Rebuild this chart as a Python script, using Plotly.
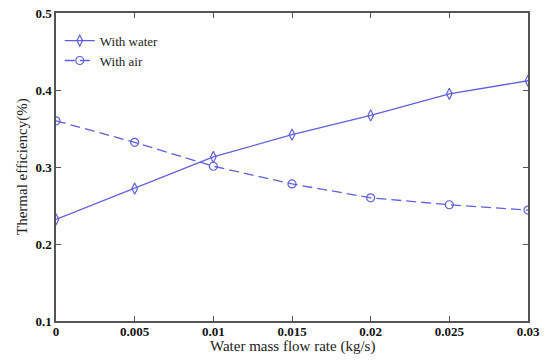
import plotly.graph_objects as go

x_vals = [0, 0.005, 0.01, 0.015, 0.02, 0.025, 0.03]
water = [0.232, 0.272, 0.313, 0.342, 0.367, 0.395, 0.412]
air = [0.360, 0.332, 0.301, 0.278, 0.260, 0.251, 0.244]
x_ticks = [0, 0.005, 0.01, 0.015, 0.02, 0.025, 0.03]
x_tick_text = ["0", "0.005", "0.01", "0.015", "0.02", "0.025", "0.03"]
y_ticks = [0.1, 0.2, 0.3, 0.4, 0.5]
y_tick_text = ["0.1", "0.2", "0.3", "0.4", "0.5"]
x_title = "Water mass flow rate (kg/s)"
y_title = "Thermal efficiency(%)"

color = "rgb(95,95,225)"
font = "Liberation Serif, Times New Roman, serif"

fig = go.Figure()
fig.add_trace(go.Scatter(x=x_vals, y=water, mode="lines+markers", name="With water",
                         line=dict(color=color, width=1.3),
                         marker=dict(symbol="diamond-tall-open", size=8, color=color, line=dict(width=1.2))))
fig.add_trace(go.Scatter(x=x_vals, y=air, mode="lines+markers", name="With air",
                         line=dict(color=color, width=1.3, dash="10px,5px"),
                         marker=dict(symbol="circle-open", size=8, color=color, line=dict(width=1.2))))

axis_common = dict(showgrid=False, zeroline=False, showline=True, linecolor="#555", linewidth=1.5,
                   mirror="ticks", ticks="inside", ticklen=5, tickcolor="#555", automargin=False,
                   ticklabeloverflow="allow",
                   tickfont=dict(family=font, size=13, color="#111", weight="bold"))

fig.update_layout(
    width=550, height=364,
    margin=dict(l=56, r=22, t=13, b=43, autoexpand=False),
    paper_bgcolor="white", plot_bgcolor="white",
    font=dict(family=font, color="#222"),
    showlegend=True,
    legend=dict(x=0.008, y=0.959, xanchor="left", yanchor="top", bgcolor="rgba(0,0,0,0)",
                font=dict(family=font, size=13, color="#222"), tracegroupgap=0),
    xaxis=dict(range=[0, 0.03], tickvals=x_ticks, ticktext=x_tick_text, ticklabelstandoff=-2,
               **axis_common),
    yaxis=dict(range=[0.1, 0.5], tickvals=y_ticks, ticktext=y_tick_text, ticklabelstandoff=0,
               **axis_common),
    annotations=[
        dict(text=x_title, xref="paper", yref="paper", x=0.5, y=0, yshift=-25,
             xanchor="center", yanchor="middle", showarrow=False,
             font=dict(family=font, size=15, color="#222")),
        dict(text=y_title, xref="paper", yref="paper", x=0, y=0.5, xshift=-34,
             xanchor="center", yanchor="middle", textangle=-90, showarrow=False,
             font=dict(family=font, size=15, color="#222")),
    ],
)

fig.write_html("out.html", config={"displayModeBar": False},
               post_script="document.body.style.margin='0';")
